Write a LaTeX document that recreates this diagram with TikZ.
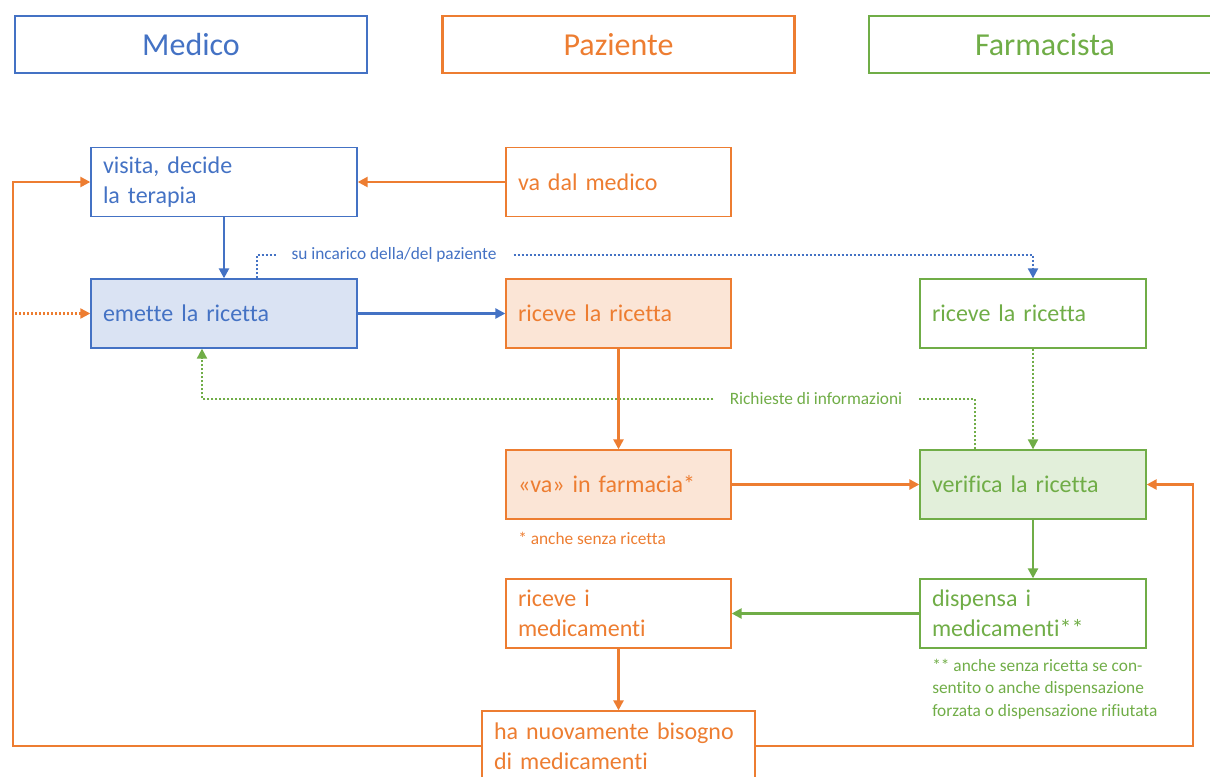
\documentclass[tikz,border=0pt]{standalone}
\usepackage{fontspec}
\setmainfont{Carlito}[Ligatures=NoCommon]
\usetikzlibrary{arrows.meta, positioning, calc}
\definecolor{medicoblue}{RGB}{68,114,196}
\definecolor{pazienteorange}{RGB}{237,125,49}
\definecolor{farmagreen}{RGB}{112,173,71}

\begin{document}
\begin{tikzpicture}[x=0.75pt, y=-0.75pt,
    role/.style={rectangle, line width=1.6pt, minimum width=264pt, minimum height=42.75pt,
                 font=\fontsize{24}{28}\selectfont},
    stepbox/.style={rectangle, line width=1pt, minimum height=51.75pt, inner xsep=9pt,
                    align=left, font=\fontsize{18}{22.5}\selectfont},
    narrow/.style={stepbox, text width=150.75pt},
    wide/.style={stepbox, text width=181.5pt},
    flow/.style={line width=1.8pt, -{Triangle[length=7.5pt, width=7.5pt]}},
    dots/.style={flow, line width=1.6pt, dash pattern=on 1.5pt off 1.5pt},
    note/.style={font=\fontsize{13}{16.9}\selectfont, inner sep=0pt, align=left}
]
    \useasboundingbox (0,0) rectangle (1210,776);

    % ruoli
    \node[role, draw=medicoblue, text=medicoblue] (medico) at (191,44.5) {Medico};
    \node[role, draw=pazienteorange, text=pazienteorange] (paziente) at (618.5,44.5) {Paziente};
    \node[role, draw=farmagreen, text=farmagreen] (farmacista) at (1045,44.5) {Farmacista};

    % passi
    \node[wide, draw=medicoblue, text=medicoblue] (visita) at (224,182) {visita, decide\\la terapia};
    \node[narrow, draw=pazienteorange, text=pazienteorange] (vamedico) at (618.5,182) {va dal medico};
    \node[wide, draw=medicoblue, fill=medicoblue!20, text=medicoblue] (emette) at (224,313.5) {emette la ricetta};
    \node[narrow, draw=pazienteorange, fill=pazienteorange!20, text=pazienteorange] (ricevepaz) at (618.5,313.5) {riceve la ricetta};
    \node[narrow, draw=farmagreen, text=farmagreen, text width=151.5pt] (ricevefarm) at (1033,313.5) {riceve la ricetta};
    \node[narrow, draw=pazienteorange, fill=pazienteorange!20, text=pazienteorange] (vafarmacia) at (618.5,484.5) {«va» in farmacia*};
    \node[narrow, draw=farmagreen, fill=farmagreen!20, text=farmagreen, text width=151.5pt] (verifica) at (1033,484.5) {verifica la ricetta};
    \node[narrow, draw=pazienteorange, text=pazienteorange] (ricevemed) at (618.5,613.5) {riceve i\\medicamenti};
    \node[narrow, draw=farmagreen, text=farmagreen, text width=151.5pt] (dispensa) at (1033,613.5) {dispensa i\\medicamenti**};
    \node[stepbox, draw=pazienteorange, text=pazienteorange, text width=186.75pt, minimum height=52.5pt] (bisogno) at (618.5,746) {ha nuovamente bisogno\\di medicamenti};

    \node[note, anchor=west, text=pazienteorange] (nota1) at (518,538) {* anche senza ricetta};
    \node[note, anchor=west, text=farmagreen] (nota2) at (932,689) {** anche senza ricetta se con-\\sentito o anche dispensazione\\forzata o dispensazione rifiutata};

    \coordinate (altro) at (15,313.5);
    \coordinate (incarico) at (1033,255);
    \coordinate (info) at (202,399);

    % collegamenti
    \draw[flow, pazienteorange] (vamedico.west) -- (visita.east);
    \draw[flow, medicoblue] (visita) -- (emette);
    \draw[flow, medicoblue] (emette) -- (ricevepaz);
    \draw[dots, pazienteorange] (altro) -- (emette.west);
    \draw[dots, medicoblue] ([xshift=24.75pt]emette.north) |- (incarico) -- (ricevefarm.north);
    \draw[dots, farmagreen] ([xshift=-43.5pt]verifica.north) |- (info) -- (info |- emette.south);
    \draw[flow, pazienteorange] (ricevepaz) -- (vafarmacia);
    \draw[flow, pazienteorange] (vafarmacia) -- (verifica);
    \draw[dots, farmagreen] (ricevefarm) -- (verifica);
    \draw[flow, farmagreen] (verifica) -- (dispensa);
    \draw[flow, farmagreen] (dispensa.west) -- (ricevemed.east);
    \draw[flow, pazienteorange] (ricevemed) -- (bisogno);
    \draw[flow, pazienteorange] (bisogno.west) -| (13,400) |- (visita.west);
    \draw[flow, pazienteorange] (bisogno.east) -| (1193,600) |- (verifica.east);

    \node[note, fill=white, inner xsep=12pt, inner ysep=2pt, text=medicoblue] (incarico-lbl) at (394,255) {su incarico della/del paziente};
    \node[note, fill=white, inner xsep=12pt, inner ysep=2pt, text=farmagreen] (info-lbl) at (816,399) {Richieste di informazioni};
\end{tikzpicture}
\end{document}
